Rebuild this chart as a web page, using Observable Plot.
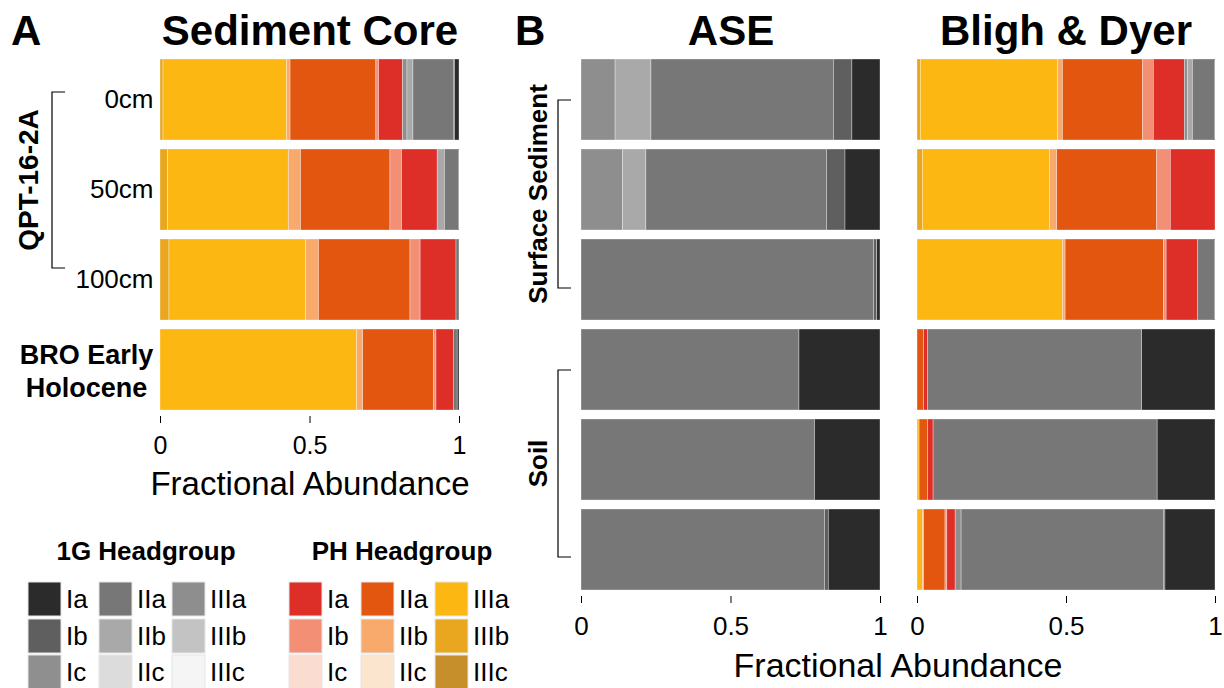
<!DOCTYPE html>
<html>
<head>
<meta charset="utf-8">
<script src="https://cdn.jsdelivr.net/npm/d3@7"></script>
<script src="https://cdn.jsdelivr.net/npm/@observablehq/plot@0.6"></script>
<style>
  body { margin: 0; background: #fff; }
  #root { position: relative; width: 1224px; height: 688px; overflow: hidden; font-family: "Liberation Sans", Arial, sans-serif; }
  #root > svg, #root > div { position: absolute; }
</style>
</head>
<body>
<div id="root"></div>
<script>
// Lipid classes, stacked left to right: PH headgroup first, then 1G headgroup
const lipids = ["IIIc", "IIIb", "IIIa", "IIc", "IIb", "IIa", "Ic", "Ib", "Ia"];
const headgroups = ["PH", "1G"];
const categories = headgroups.flatMap(h => lipids.map(l => `${h} ${l}`));

const phColors = { Ia: "#dd2e27", Ib: "#f38f75", Ic: "#fadcd1", IIa: "#e3560f", IIb: "#f8aa6c", IIc: "#fce5cf", IIIa: "#fdb713", IIIb: "#e8a71e", IIIc: "#c68f2c" };
const gColors  = { Ia: "#2b2b2b", Ib: "#5f5f5f", Ic: "#8f8f8f", IIa: "#777777", IIb: "#a9a9a9", IIc: "#dcdcdc", IIIa: "#8e8e8e", IIIb: "#c3c3c3", IIIc: "#f4f5f4" };
const colorRange = [...lipids.map(l => phColors[l]), ...lipids.map(l => gColors[l])];

// Fractional abundances, one value per category (PH IIIc ... PH Ia, 1G IIIc ... 1G Ia)
const core0cm   = [0, .010, .414, 0, .011, .287, 0, .009, .080,   0, 0, .015, 0, .020, .135, 0, .004, .015];
const core50cm  = [0, .025, .404, 0, .041, .299, 0, .039, .119,   0, 0, 0,    0, .024, .047, 0, 0,    .002];
const core100cm = [0, .030, .457, 0, .043, .306, 0, .034, .120,   0, 0, 0,    0, 0,    .010, 0, 0,    0];
const coreBRO   = [0, 0,    .658, 0, .020, .236, 0, .009, .058,   0, 0, 0,    0, 0,    .013, 0, 0,    .006];

const aseSurface1 = [0, 0, 0, 0, 0, 0, 0, 0, 0,   0, 0, .114, 0, .120, .610, 0, .062, .094];
const aseSurface2 = [0, 0, 0, 0, 0, 0, 0, 0, 0,   0, 0, .139, 0, .078, .604, 0, .062, .117];
const aseSurface3 = [0, 0, 0, 0, 0, 0, 0, 0, 0,   0, 0, 0,    0, 0,    .978, 0, .011, .011];
const aseSoil1    = [0, 0, 0, 0, 0, 0, 0, 0, 0,   0, 0, 0,    0, 0,    .729, 0, 0,    .271];
const aseSoil2    = [0, 0, 0, 0, 0, 0, 0, 0, 0,   0, 0, 0,    0, 0,    .781, 0, 0,    .219];
const aseSoil3    = [0, 0, 0, 0, 0, 0, 0, 0, 0,   0, 0, 0,    0, 0,    .814, 0, .013, .173];

const bdSurface1 = [0, .011, .461, 0, .016, .269, 0, .036, .104,   0, 0, .011, 0, .016, .074, 0, 0,    .002];
const bdSurface2 = [0, .018, .426, 0, .025, .335, 0, .046, .150,   0, 0, 0,    0, 0,    0,    0, 0,    0];
const bdSurface3 = [0, 0,    .488, 0, .009, .330, 0, .009, .106,   0, 0, 0,    0, 0,    .056, 0, 0,    .002];
const bdSoil1    = [0, 0,    0,    0, 0,    .022, 0, 0,    .013,   0, 0, 0,    0, 0,    .719, 0, 0,    .246];
const bdSoil2    = [0, 0,    .007, 0, 0,    .029, 0, 0,    .018,   0, 0, 0,    0, 0,    .752, 0, 0,    .194];
const bdSoil3    = [0, 0,    .018, 0, .004, .072, 0, .006, .028,   0, 0, .020, 0, 0,    .679, 0, .005, .168];

const coreRows = ["0cm", "50cm", "100cm", "BRO Early\nHolocene"];
const sampleRows = ["S1", "S2", "S3", "Soil1", "Soil2", "Soil3"];
const xTicks = [0, 0.5, 1];

const FONT = "Liberation Sans, Arial, sans-serif";

function tidy(rows, series) {
  return rows.flatMap((row, i) =>
    series[i].map((value, j) => ({ row, cat: categories[j], value })).filter(d => d.value > 0));
}

function stackedPanel({ rows, series, width, height, marginLeft, marginRight, marginTop, marginBottom, tickFont = 24, tickPadding = 9, extra = [] }) {
  return Plot.plot({
    width, height, marginLeft, marginRight, marginTop, marginBottom,
    style: { fontFamily: FONT, fontSize: "24px", color: "#000", background: "transparent", overflow: "visible" },
    x: { domain: [0, 1] },
    y: { domain: rows, paddingInner: 0.1, paddingOuter: 0.05, axis: null },
    color: { domain: categories, range: colorRange },
    marks: [
      Plot.barX(tidy(rows, series), {
        x: "value", y: "row", fill: "cat", order: categories,
        stroke: "white", strokeWidth: 0.6, strokeOpacity: 0.55
      }),
      Plot.axisX({ ticks: xTicks, tickFormat: d => String(d), tickSize: 7, tickPadding, fontSize: tickFont, label: null }),
      ...extra
    ]
  });
}

const root = document.getElementById("root");

// Panel A: sediment core
const coreChart = stackedPanel({
  rows: coreRows,
  series: [core0cm, core50cm, core100cm, coreBRO],
  width: 480, height: 520, marginLeft: 160, marginRight: 21, marginTop: 53, marginBottom: 104,
  tickFont: 25, tickPadding: 13,
  extra: [
    Plot.text(coreRows.slice(0, 3), { y: d => d, text: d => d, frameAnchor: "left", dx: -7, textAnchor: "end", fontSize: 26 }),
    Plot.text(coreRows.slice(3), { y: d => d, text: d => d, frameAnchor: "left", dx: -74, textAnchor: "middle", fontSize: 27, fontWeight: "bold", lineHeight: 1.22 }),
    Plot.text(["Fractional Abundance"], { text: d => d, frameAnchor: "bottom", dy: 78, fontSize: 33 })
  ]
});
coreChart.style.left = "0px"; coreChart.style.top = "0px";
root.append(coreChart);

// Panel B: extraction methods
const aseChart = stackedPanel({
  rows: sampleRows,
  series: [aseSurface1, aseSurface2, aseSurface3, aseSoil1, aseSoil2, aseSoil3],
  width: 360, height: 688, marginLeft: 41, marginRight: 20, marginTop: 53, marginBottom: 92,
  tickFont: 26, tickPadding: 13
});
aseChart.style.left = "540px"; aseChart.style.top = "0px";
root.append(aseChart);

const bdChart = stackedPanel({
  rows: sampleRows,
  series: [bdSurface1, bdSurface2, bdSurface3, bdSoil1, bdSoil2, bdSoil3],
  width: 324, height: 688, marginLeft: 17, marginRight: 9, marginTop: 53, marginBottom: 92,
  tickFont: 26, tickPadding: 13
});
bdChart.style.left = "900px"; bdChart.style.top = "0px";
root.append(bdChart);

// Titles, brackets, group labels and legend
const svg = d3.select(root).append("svg")
  .attr("width", 1224).attr("height", 688)
  .style("left", "0px").style("top", "0px").style("pointer-events", "none")
  .attr("font-family", FONT);

const titles = [
  { text: "A", x: 11, anchor: "start" },
  { text: "Sediment Core", x: 310, anchor: "middle" },
  { text: "B", x: 515, anchor: "start" },
  { text: "ASE", x: 731, anchor: "middle" },
  { text: "Bligh & Dyer", x: 1066, anchor: "middle" }
];
svg.selectAll("text.title").data(titles).join("text")
  .attr("class", "title")
  .attr("x", d => d.x).attr("y", 45)
  .attr("text-anchor", d => d.anchor)
  .attr("font-size", 42).attr("font-weight", "bold")
  .text(d => d.text);

svg.append("text").attr("x", 898).attr("y", 677).attr("text-anchor", "middle")
  .attr("font-size", 34).text("Fractional Abundance");

const brackets = [
  { x: 52, y0: 92, y1: 268, label: "QPT-16-2A", lx: 38, size: 28 },
  { x: 558, y0: 100, y1: 288, label: "Surface Sediment", lx: 547, size: 26 },
  { x: 558, y0: 370, y1: 557, label: "Soil", lx: 547, size: 26 }
];
svg.selectAll("path.bracket").data(brackets).join("path")
  .attr("class", "bracket")
  .attr("d", d => `M${d.x + 13},${d.y0}H${d.x}V${d.y1}H${d.x + 13}`)
  .attr("fill", "none").attr("stroke", "#000").attr("stroke-width", 1.2);
svg.selectAll("text.group").data(brackets).join("text")
  .attr("class", "group")
  .attr("transform", d => `translate(${d.lx},${(d.y0 + d.y1) / 2}) rotate(-90)`)
  .attr("text-anchor", "middle")
  .attr("font-size", d => d.size).attr("font-weight", "bold")
  .text(d => d.label);

// Legend
const legendGroups = [
  { title: "1G Headgroup", cx: 146, cols: [28, 99, 172], colors: gColors },
  { title: "PH Headgroup", cx: 402, cols: [289, 361, 435], colors: phColors }
];
const legendCols = [["Ia", "Ib", "Ic"], ["IIa", "IIb", "IIc"], ["IIIa", "IIIb", "IIIc"]];
const legendRowsY = [582, 619, 655];
legendGroups.forEach(g => {
  svg.append("text").attr("x", g.cx).attr("y", 560).attr("text-anchor", "middle")
    .attr("font-size", 26).attr("font-weight", "bold").text(g.title);
  legendCols.forEach((col, ci) => col.forEach((name, ri) => {
    const x = g.cols[ci], y = legendRowsY[ri];
    svg.append("rect").attr("x", x).attr("y", y).attr("width", 33).attr("height", 34)
      .attr("fill", g.colors[name]).attr("stroke", "#e6e6e6").attr("stroke-width", 1);
    svg.append("text").attr("x", x + 38).attr("y", y + 26).attr("font-size", 26).text(name);
  }));
});
</script>
</body>
</html>
